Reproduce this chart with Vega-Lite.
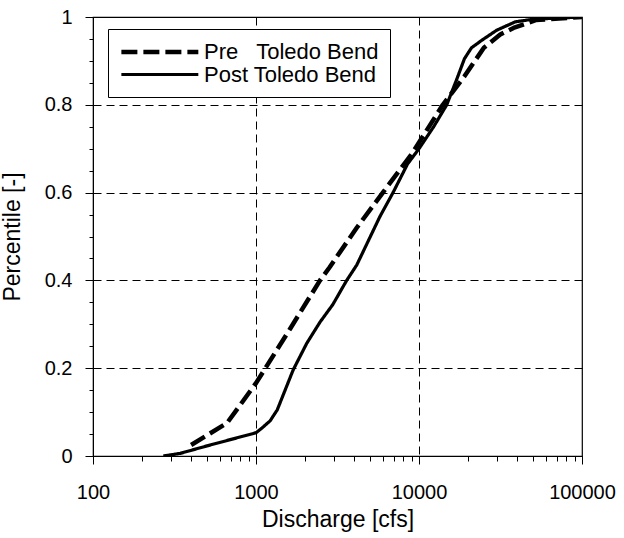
{
  "$schema": "https://vega.github.io/schema/vega-lite/v6.json",
  "width": 489,
  "height": 439,
  "autosize": {"type": "none"},
  "padding": {"left": 93, "top": 17, "right": 42, "bottom": 82},
  "background": "white",
  "config": {
    "font": "Liberation Sans",
    "view": {"stroke": "black", "strokeWidth": 1.2}
  },
  "data": {
    "values": [
      {"series": "Pre\u00a0\u00a0 Toledo Bend", "discharge": 400, "pct": 0.025},
      {"series": "Pre\u00a0\u00a0 Toledo Bend", "discharge": 664, "pct": 0.075},
      {"series": "Pre\u00a0\u00a0 Toledo Bend", "discharge": 1000, "pct": 0.166},
      {"series": "Pre\u00a0\u00a0 Toledo Bend", "discharge": 1620, "pct": 0.29},
      {"series": "Pre\u00a0\u00a0 Toledo Bend", "discharge": 2470, "pct": 0.40},
      {"series": "Pre\u00a0\u00a0 Toledo Bend", "discharge": 2830, "pct": 0.43},
      {"series": "Pre\u00a0\u00a0 Toledo Bend", "discharge": 4150, "pct": 0.52},
      {"series": "Pre\u00a0\u00a0 Toledo Bend", "discharge": 6000, "pct": 0.60},
      {"series": "Pre\u00a0\u00a0 Toledo Bend", "discharge": 9100, "pct": 0.69},
      {"series": "Pre\u00a0\u00a0 Toledo Bend", "discharge": 14000, "pct": 0.80},
      {"series": "Pre\u00a0\u00a0 Toledo Bend", "discharge": 19000, "pct": 0.865},
      {"series": "Pre\u00a0\u00a0 Toledo Bend", "discharge": 25000, "pct": 0.93},
      {"series": "Pre\u00a0\u00a0 Toledo Bend", "discharge": 31500, "pct": 0.96},
      {"series": "Pre\u00a0\u00a0 Toledo Bend", "discharge": 38000, "pct": 0.975},
      {"series": "Pre\u00a0\u00a0 Toledo Bend", "discharge": 52000, "pct": 0.993},
      {"series": "Pre\u00a0\u00a0 Toledo Bend", "discharge": 100000, "pct": 1.0},
      {"series": "Post Toledo Bend", "discharge": 270, "pct": 0.0},
      {"series": "Post Toledo Bend", "discharge": 343, "pct": 0.006},
      {"series": "Post Toledo Bend", "discharge": 500, "pct": 0.023},
      {"series": "Post Toledo Bend", "discharge": 1000, "pct": 0.053},
      {"series": "Post Toledo Bend", "discharge": 1090, "pct": 0.064},
      {"series": "Post Toledo Bend", "discharge": 1220, "pct": 0.08},
      {"series": "Post Toledo Bend", "discharge": 1350, "pct": 0.105},
      {"series": "Post Toledo Bend", "discharge": 1690, "pct": 0.196},
      {"series": "Post Toledo Bend", "discharge": 2050, "pct": 0.257},
      {"series": "Post Toledo Bend", "discharge": 2470, "pct": 0.305},
      {"series": "Post Toledo Bend", "discharge": 2960, "pct": 0.345},
      {"series": "Post Toledo Bend", "discharge": 3600, "pct": 0.40},
      {"series": "Post Toledo Bend", "discharge": 4150, "pct": 0.435},
      {"series": "Post Toledo Bend", "discharge": 5750, "pct": 0.545},
      {"series": "Post Toledo Bend", "discharge": 6930, "pct": 0.60},
      {"series": "Post Toledo Bend", "discharge": 8500, "pct": 0.665},
      {"series": "Post Toledo Bend", "discharge": 10000, "pct": 0.70},
      {"series": "Post Toledo Bend", "discharge": 12300, "pct": 0.75},
      {"series": "Post Toledo Bend", "discharge": 14800, "pct": 0.80},
      {"series": "Post Toledo Bend", "discharge": 17000, "pct": 0.857},
      {"series": "Post Toledo Bend", "discharge": 19000, "pct": 0.905},
      {"series": "Post Toledo Bend", "discharge": 21000, "pct": 0.93},
      {"series": "Post Toledo Bend", "discharge": 24500, "pct": 0.948},
      {"series": "Post Toledo Bend", "discharge": 30000, "pct": 0.97},
      {"series": "Post Toledo Bend", "discharge": 39000, "pct": 0.989},
      {"series": "Post Toledo Bend", "discharge": 50000, "pct": 0.995},
      {"series": "Post Toledo Bend", "discharge": 100000, "pct": 1.0}
    ]
  },
  "mark": {"type": "line", "color": "black", "strokeCap": "butt", "strokeJoin": "round", "clip": true},
  "encoding": {
    "x": {
      "field": "discharge",
      "type": "quantitative",
      "scale": {"type": "log", "domain": [100, 100000]},
      "axis": {
        "title": "Discharge [cfs]",
        "titleFontSize": 23,
        "titleFontWeight": "normal",
        "titleColor": "black",
        "titlePadding": 6,
        "values": [100, 200, 300, 400, 500, 600, 700, 800, 900, 1000, 2000, 3000, 4000, 5000, 6000, 7000, 8000, 9000, 10000, 20000, 30000, 40000, 50000, 60000, 70000, 80000, 90000, 100000],
        "labelExpr": "indexof([100,1000,10000,100000], datum.value) >= 0 ? '' + datum.value : ''",
        "labelFontSize": 20,
        "labelColor": "black",
        "labelPadding": 18,
        "labelFlush": false,
        "labelBound": false,
        "labelOverlap": false,
        "domainColor": "black",
        "tickColor": "black",
        "tickSize": {"condition": {"test": "indexof([100,1000,10000,100000], datum.value) >= 0", "value": 8}, "value": 5},
        "grid": true,
        "gridColor": "black",
        "gridDash": [8, 5],
        "gridWidth": 1,
        "gridOpacity": {"condition": {"test": "indexof([1000,10000], datum.value) >= 0", "value": 1}, "value": 0}
      }
    },
    "y": {
      "field": "pct",
      "type": "quantitative",
      "scale": {"domain": [0, 1]},
      "axis": {
        "title": "Percentile [-]",
        "titleFontSize": 23,
        "titleFontWeight": "normal",
        "titleColor": "black",
        "titlePadding": 20,
        "values": [0, 0.05, 0.1, 0.15, 0.2, 0.25, 0.3, 0.35, 0.4, 0.45, 0.5, 0.55, 0.6, 0.65, 0.7, 0.75, 0.8, 0.85, 0.9, 0.95, 1],
        "labelExpr": "abs(round(datum.value*5)-datum.value*5) < 0.001 ? '' + round(datum.value*10)/10 : ''",
        "labelFontSize": 20,
        "labelColor": "black",
        "labelPadding": 13,
        "labelFlush": false,
        "labelBound": false,
        "labelOverlap": false,
        "domainColor": "black",
        "tickColor": "black",
        "tickSize": {"condition": {"test": "abs(round(datum.value*5)-datum.value*5) < 0.001", "value": 8}, "value": 4},
        "grid": true,
        "gridColor": "black",
        "gridDash": [8, 5],
        "gridWidth": 1,
        "gridOpacity": {"condition": {"test": "datum.value > 0.1 && datum.value < 0.9 && abs(round(datum.value*5)-datum.value*5) < 0.001", "value": 1}, "value": 0}
      }
    },
    "strokeDash": {
      "field": "series",
      "type": "nominal",
      "scale": {"domain": ["Pre\u00a0\u00a0 Toledo Bend", "Post Toledo Bend"], "range": [[16, 6], [1, 0]]},
      "legend": {
        "title": null,
        "orient": "none",
        "legendX": 15,
        "legendY": 12,
        "strokeColor": "black",
        "fillColor": "white",
        "padding": 11,
        "symbolType": "M-1,0H7",
        "symbolSize": 370,
        "symbolStrokeWidth": 4,
        "symbolStrokeColor": "black",
        "labelFontSize": 22,
        "labelColor": "black",
        "labelOffset": 61,
        "labelLimit": 400,
        "rowPadding": 0
      }
    },
    "strokeWidth": {
      "field": "series",
      "type": "nominal",
      "scale": {"domain": ["Pre\u00a0\u00a0 Toledo Bend", "Post Toledo Bend"], "range": [4.5, 3.2]},
      "legend": null
    }
  }
}
